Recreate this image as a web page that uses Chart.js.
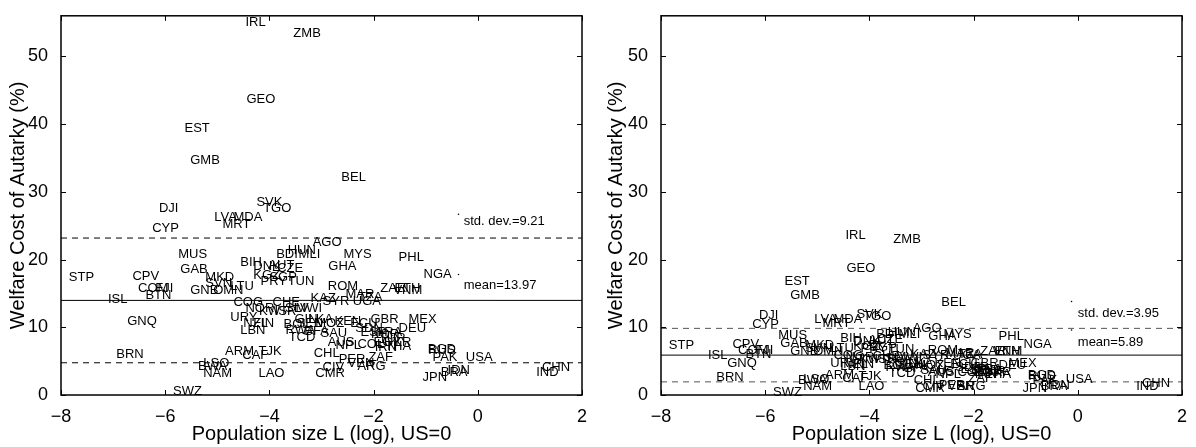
<!DOCTYPE html>
<html>
<head>
<meta charset="utf-8">
<title>Welfare cost of autarky</title>
<script src="https://cdn.jsdelivr.net/npm/chart.js@4.4.1/dist/chart.umd.min.js"></script>
<style>
  html, body { margin: 0; padding: 0; background: #fff; }
  #wrap { position: relative; width: 1196px; height: 447px; }
  canvas { position: absolute; top: 0; }
</style>
</head>
<body>
<div id="wrap">
  <canvas id="left" width="598" height="447" style="left:0"></canvas>
  <canvas id="right" width="598" height="447" style="left:598px"></canvas>
</div>
<script>
// country codes, log population (US=0), welfare cost in % for the two panels
const countries = ['IRL','ZMB','GEO','EST','GMB','BEL','SVK','TGO','DJI','LVA','MDA','MRT','CYP','AGO','HUN',
  'BDI','MLI','MYS','MUS','PHL','BIH','DNK','AUT','CZE','GHA','GAB','NGA','KGZ','SGP','PRY','TUN','CPV','STP',
  'MKD','SVN','ROM','LTU','ZAR','VNM','ETH','COM','FJI','GNB','OMN','BTN','ISL','MAR','KAZ','SYR','UGA','TZA',
  'COG','CHE','NOR','KWT','ISR','SLV','MWI','URY','NZL','FIN','LBN','BOL','RWA','SEN','GIN','LKA','MOZ','KEN',
  'ECU','GBR','MEX','DEU','BFA','TCD','SAU','SDN','ESP','KOR','FRA','AUS','NPL','COL','EGY','TUR','IRN','THA',
  'UKR','CHL','ZAF','PER','VEN','ARG','CIV','CMR','ARM','CAF','TJK','LSO','BWA','NAM','LAO','SWZ','BRN','GNQ',
  'BGD','RUS','PAK','USA','JPN','BRA','IDN','CHN','IND'];
const popLog = [-4.46,-3.54,-4.44,-5.63,-5.52,-2.62,-4.25,-4.12,-6.12,-5.06,-4.69,-4.90,-6.25,-3.17,-3.65,
  -3.87,-3.44,-2.58,-5.75,-1.52,-4.56,-4.31,-4.02,-3.85,-2.87,-5.71,-1.04,-4.31,-4.00,-4.17,-3.65,-6.63,-7.85,
  -5.23,-5.23,-2.88,-4.75,-1.87,-1.62,-1.60,-6.52,-6.19,-5.52,-5.08,-6.38,-7.10,-2.54,-3.21,-2.98,-2.40,-2.30,
  -4.69,-3.94,-4.46,-4.20,-3.90,-3.70,-3.50,-4.75,-4.50,-4.31,-4.56,-3.73,-3.69,-3.48,-3.52,-3.25,-3.12,-2.75,
  -2.45,-2.06,-1.33,-1.52,-3.33,-3.63,-3.02,-2.35,-2.25,-2.05,-1.95,-2.88,-2.73,-2.31,-2.00,-1.90,-1.98,-1.78,
  -1.80,-3.15,-2.10,-2.67,-2.50,-2.31,-2.98,-3.12,-4.85,-4.52,-4.21,-5.27,-5.37,-5.27,-4.21,-5.85,-6.94,-6.73,
  -0.96,-0.95,-0.87,-0.23,-1.06,-0.71,-0.58,1.23,1.12];
const costLeft = [55.0,53.4,43.7,39.3,34.7,32.2,28.5,27.6,27.5,26.2,26.2,25.2,24.6,22.6,21.3,
  20.7,20.7,20.7,20.7,20.3,19.6,19.0,19.1,18.7,19.0,18.6,17.8,17.6,17.3,16.8,16.8,17.5,17.3,
  17.4,16.5,16.1,16.1,15.7,15.5,15.7,15.8,15.8,15.5,15.5,14.7,14.1,14.8,14.2,13.8,13.8,14.4,
  13.7,13.7,12.8,12.4,12.4,12.8,12.8,11.5,10.6,10.6,9.5,10.4,9.5,10.6,11.2,11.2,10.6,10.9,
  10.6,11.1,11.2,9.8,9.4,8.5,9.1,9.9,9.2,9.0,9.2,7.8,7.3,7.5,7.8,8.3,7.0,7.2,
  7.7,6.2,5.5,5.2,4.7,4.2,4.0,3.2,6.5,5.8,6.5,4.6,4.2,3.2,3.2,0.6,6.0,10.9,
  6.8,6.6,5.5,5.5,2.6,3.3,3.7,4.0,3.3];
const costRight = [23.6,23.0,18.7,16.8,14.7,13.7,11.9,11.6,11.8,11.2,11.2,10.5,10.4,9.8,9.2,
  8.9,8.9,8.9,8.8,8.6,8.3,7.9,8.0,8.2,8.6,7.6,7.5,7.2,7.0,6.9,6.8,7.5,7.3,
  7.3,6.9,6.6,6.9,6.5,6.4,6.5,6.6,6.6,6.5,6.5,6.0,5.9,6.2,6.0,5.8,5.8,6.0,
  5.9,5.7,5.5,5.3,5.3,5.4,5.5,4.7,4.5,4.5,4.2,4.3,4.0,4.5,4.8,4.6,4.4,4.6,
  4.5,4.7,4.7,4.4,3.9,3.2,3.7,4.0,3.8,3.7,3.8,3.4,3.1,3.3,3.3,3.5,3.0,3.1,
  3.3,2.2,2.4,1.4,1.3,1.3,1.3,1.0,2.9,2.4,2.7,2.3,2.1,1.2,1.2,0.4,2.6,4.6,
  2.9,2.8,2.2,2.3,1.0,1.3,1.4,1.7,1.2];
const xTicks = [-8, -6, -4, -2, 0, 2];
const yTicks = [0, 10, 20, 30, 40, 50];
const meanLeft = 13.97, sdLeft = 9.21;
const meanRight = 5.89, sdRight = 3.95;

const FONT = '"Liberation Sans", Arial, Helvetica, sans-serif';

const labelPlugin = {
  id: 'countryLabels',
  afterDatasetsDraw(chart, args, opts) {
    const ctx = chart.ctx;
    const xs = chart.scales.x, ys = chart.scales.y;
    ctx.save();
    ctx.font = '13px ' + FONT;
    ctx.fillStyle = '#000';
    ctx.textAlign = 'left';
    ctx.textBaseline = 'middle';
    chart.getDatasetMeta(0).data.forEach((pt, i) => ctx.fillText(countries[i], pt.x, pt.y));
    opts.notes.forEach(n => ctx.fillText(n.text, xs.getPixelForValue(n.x), ys.getPixelForValue(n.y)));
    ctx.restore();
  },
  afterDraw(chart) {
    const ctx = chart.ctx;
    const { left, right, top, bottom } = chart.chartArea;
    const xs = chart.scales.x, ys = chart.scales.y;
    ctx.save();
    ctx.strokeStyle = '#000';
    ctx.lineWidth = 1.5;
    ctx.strokeRect(left, top, right - left, bottom - top);
    ctx.lineWidth = 1;
    ctx.beginPath();
    xTicks.forEach(v => {
      const p = Math.round(xs.getPixelForValue(v)) + 0.5;
      ctx.moveTo(p, bottom); ctx.lineTo(p, bottom - 5);
      ctx.moveTo(p, top); ctx.lineTo(p, top + 5);
    });
    yTicks.forEach(v => {
      const p = Math.round(ys.getPixelForValue(v)) + 0.5;
      ctx.moveTo(left, p); ctx.lineTo(left + 5, p);
      ctx.moveTo(right, p); ctx.lineTo(right - 5, p);
    });
    ctx.stroke();
    ctx.restore();
  }
};

function hline(y, dash, color) {
  return {
    data: [{ x: -8, y: y }, { x: 2, y: y }],
    showLine: true,
    borderColor: color,
    borderWidth: 1,
    borderDash: dash,
    pointRadius: 0
  };
}

function makePanel(id, costs, mean, sd, axisWidth, rightPad, noteX, dotX, notesY, dotsY, dashColor) {
  new Chart(document.getElementById(id), {
    type: 'scatter',
    data: {
      datasets: [
        { data: popLog.map((x, i) => ({ x: x, y: costs[i] })), pointRadius: 0 },
        hline(mean, [], '#000'),
        hline(mean + sd, [6, 5], dashColor),
        hline(mean - sd, [6, 5], dashColor),
        { data: dotsY.map(y => ({ x: dotX, y: y })), pointRadius: 0.8,
          backgroundColor: '#000', borderWidth: 0 }
      ]
    },
    options: {
      responsive: false,
      devicePixelRatio: 1,
      animation: false,
      events: [],
      layout: { padding: { left: 0, right: rightPad, top: 5, bottom: 0 } },
      plugins: {
        legend: { display: false },
        tooltip: { enabled: false },
        countryLabels: {
          notes: [
            { x: noteX, y: notesY[0], text: 'std. dev.=' + sd.toFixed(2) },
            { x: noteX, y: notesY[1], text: 'mean=' + mean.toFixed(2) }
          ]
        }
      },
      scales: {
        x: {
          type: 'linear', min: -8, max: 2,
          grid: { display: false }, border: { display: false },
          afterBuildTicks: s => { s.ticks = xTicks.map(v => ({ value: v })); },
          afterFit: s => { s.height = 52; },
          ticks: {
            color: '#000', padding: 3, font: { family: FONT, size: 18 },
            callback: v => String(v).replace('-', '\u2212')
          },
          title: {
            display: true, text: 'Population size L (log), US=0', color: '#000',
            font: { family: FONT, size: 20 }, padding: { top: 0, bottom: 1 }
          }
        },
        y: {
          type: 'linear', min: 0, max: 56,
          grid: { display: false }, border: { display: false },
          afterBuildTicks: s => { s.ticks = yTicks.map(v => ({ value: v })); },
          afterFit: s => { s.width = axisWidth; },
          ticks: { color: '#000', padding: 5, font: { family: FONT, size: 18 } },
          title: {
            display: true, text: 'Welfare Cost of Autarky (%)', color: '#000',
            font: { family: FONT, size: 20 }, padding: { top: 6, bottom: 0 }
          }
        }
      }
    },
    plugins: [labelPlugin]
  });
}

makePanel('left', costLeft, meanLeft, sdLeft, 61, 16, -0.27, -0.37, [25.7, 16.2], [26.7, 17.8], '#000');
makePanel('right', costRight, meanRight, sdRight, 63, 14, 0.0, -0.12, [12.1, 7.8], [13.8, 9.6], '#555');
</script>
</body>
</html>
